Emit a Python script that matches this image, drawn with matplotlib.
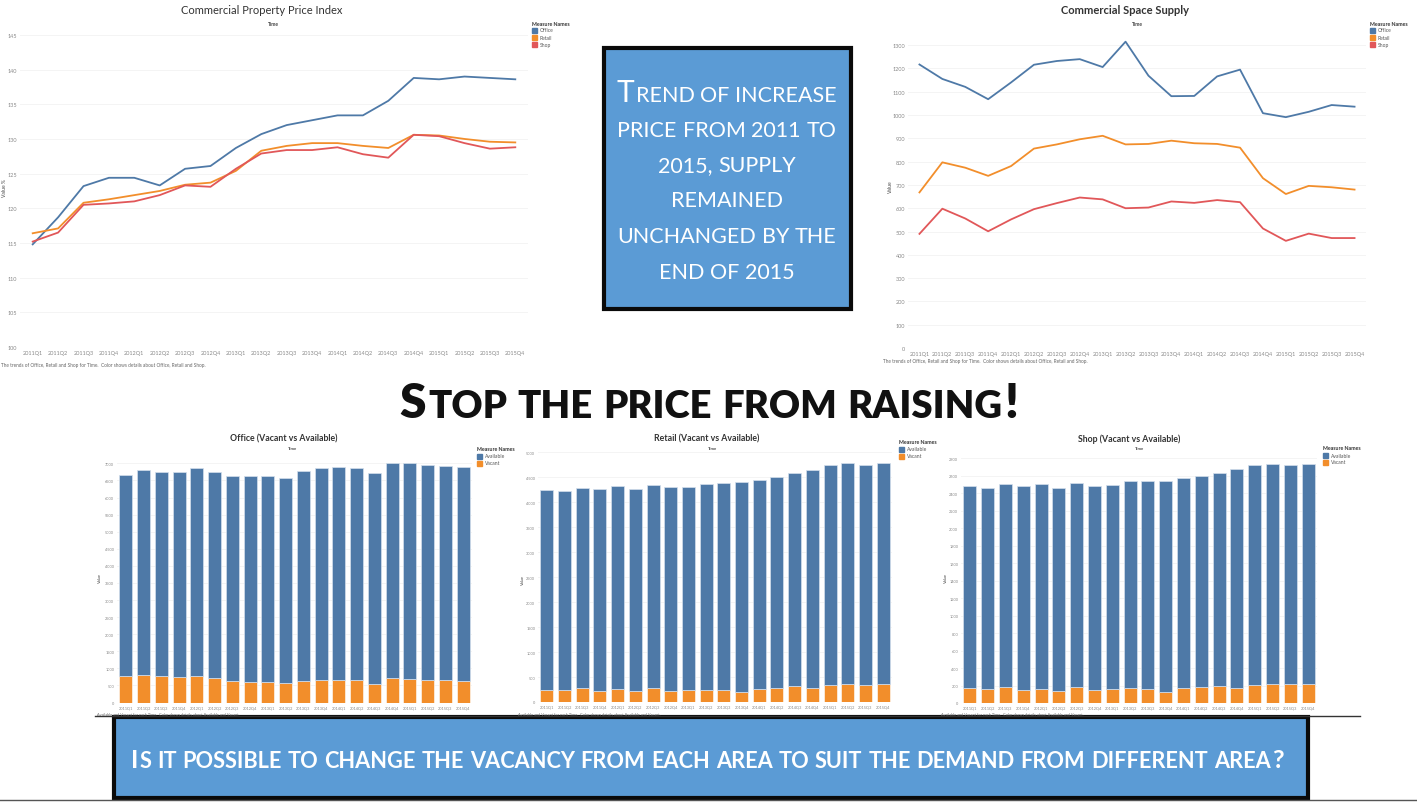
import matplotlib
matplotlib.use('Agg')
import matplotlib.pyplot as plt
from matplotlib.patches import Rectangle
from matplotlib.lines import Line2D

plt.rcParams['font.family'] = ['Lato', 'DejaVu Sans']

# ---- data -------------------------------------------------------------
quarters = ['2011Q1', '2011Q2', '2011Q3', '2011Q4', '2012Q1', '2012Q2', '2012Q3', '2012Q4',
            '2013Q1', '2013Q2', '2013Q3', '2013Q4', '2014Q1', '2014Q2', '2014Q3', '2014Q4',
            '2015Q1', '2015Q2', '2015Q3', '2015Q4']

price_office = [114.8, 118.7, 123.2, 124.4, 124.4, 123.3, 125.7, 126.1, 128.7, 130.7,
                132.0, 132.7, 133.4, 133.4, 135.5, 138.8, 138.6, 139.0, 138.8, 138.6]
price_retail = [116.4, 117.1, 120.8, 121.3, 121.9, 122.5, 123.4, 123.7, 125.4, 128.3,
                129.0, 129.4, 129.4, 129.0, 128.7, 130.6, 130.5, 130.0, 129.6, 129.5]
price_shop = [115.2, 116.5, 120.5, 120.7, 121.0, 121.9, 123.3, 123.1, 125.7, 127.9,
              128.4, 128.4, 128.8, 127.8, 127.3, 130.6, 130.4, 129.4, 128.6, 128.8]

supply_office = [1217, 1155, 1121, 1068, 1140, 1216, 1232, 1240, 1206, 1315,
                 1169, 1081, 1082, 1166, 1195, 1008, 991, 1014, 1043, 1036]
supply_retail = [668, 797, 774, 739, 781, 856, 874, 896, 911, 874,
                 876, 890, 879, 876, 860, 729, 661, 696, 690, 680]
supply_shop = [490, 598, 556, 501, 552, 596, 622, 646, 638, 600,
               603, 629, 623, 635, 626, 513, 460, 491, 472, 472]

office_vacant = [785, 815, 766, 746, 766, 717, 629, 610, 590, 561,
                 639, 659, 668, 649, 551, 707, 698, 659, 649, 639]
office_available = [5874, 5980, 5980, 6010, 6088, 6039, 6010, 6019, 6039, 6019,
                    6137, 6204, 6215, 6214, 6156, 6293, 6302, 6302, 6283, 6263]
retail_vacant = [248, 234, 274, 214, 268, 227, 274, 227, 241, 248,
                 241, 201, 254, 274, 314, 281, 341, 355, 341, 355]
retail_available = [3994, 3987, 4021, 4048, 4061, 4048, 4081, 4088, 4061, 4121,
                    4141, 4208, 4202, 4235, 4275, 4369, 4402, 4435, 4409, 4435]
shop_vacant = [168, 160, 183, 145, 164, 141, 179, 153, 160, 168,
               164, 126, 176, 179, 198, 176, 210, 214, 218, 221]
shop_available = [2309, 2302, 2325, 2332, 2340, 2321, 2340, 2332, 2329, 2366,
                  2370, 2408, 2401, 2420, 2436, 2500, 2512, 2523, 2500, 2508]

BLUE, ORANGE, RED = '#4E79A7', '#F28E2B', '#E15759'
BOX = '#5B9BD5'

W, H = 1417, 803
fig = plt.figure(figsize=(W / 100, H / 100), dpi=100)
renderer = fig.canvas.get_renderer()


def fx(x):
    return x / W


def fy(y):
    return 1 - y / H


def add_ax(l, t, r, b):
    return fig.add_axes([fx(l), fy(b), (r - l) / W, (b - t) / H])


def style(ax, ylim, yticks, fs):
    for s in ax.spines.values():
        s.set_visible(False)
    ax.set_xlim(-0.5, len(quarters) - 0.5)
    ax.set_ylim(*ylim)
    ax.set_yticks(yticks)
    ax.set_xticks(range(len(quarters)))
    ax.set_xticklabels(quarters)
    ax.tick_params(length=0, labelsize=fs, colors='#888888', pad=2)
    ax.grid(axis='y', color='#f2f2f2', lw=0.6)
    ax.set_axisbelow(True)


def legend(x, y, names, colors, title='Measure Names'):
    if title:
        fig.text(fx(x), fy(y), title, fontsize=3.8, weight='bold', color='#333333', va='center')
    for i, (n, c) in enumerate(zip(names, colors)):
        yy = y + 7 + 7 * i
        fig.patches.append(Rectangle((fx(x), fy(yy + 2.5)), 5 / W, 5 / H, color=c,
                                     transform=fig.transFigure))
        fig.text(fx(x + 8), fy(yy), n, fontsize=3.6, color='#555555', va='center')


def small_caps(text, cx, base, big, small, color, weight, width=None):
    def layout(b, s):
        items, x = [], 0.0
        for wi, word in enumerate(text.split(' ')):
            if wi:
                x += 0.27 * s * 100 / 72
            runs = []
            for ch in word:
                isbig = ch.isupper() or ch in '!?'
                if runs and runs[-1][1] == isbig:
                    runs[-1][0] += ch
                else:
                    runs.append([ch, isbig])
            for ri, (run, isbig) in enumerate(runs):
                size = b if isbig else s
                if ri:
                    x += 0.05 * size * 100 / 72
                t = fig.text(0, 0, run.upper(), fontsize=size, color=color, weight=weight,
                             ha='left', va='baseline')
                items.append((t, x))
                x += t.get_window_extent(renderer).width
        return items, x

    items, total = layout(big, small)
    if width:
        for t, _ in items:
            t.remove()
        k = width / total
        items, total = layout(big * k, small * k)
    x0 = cx - total / 2
    for t, x in items:
        t.set_position((fx(x0 + x), fy(base)))


xs = range(len(quarters))

# ---- Commercial Property Price Index -------------------------------------
ax1 = add_ax(20, 29, 528, 348)
style(ax1, (100, 146), range(100, 146, 5), 4)
for vals, c in [(price_office, BLUE), (price_retail, ORANGE), (price_shop, RED)]:
    ax1.plot(xs, vals, color=c, lw=1.3)
fig.text(fx(262), fy(10), 'Commercial Property Price Index', fontsize=8, color='#333333',
         ha='center', va='center')
fig.text(fx(273), fy(24), 'Time', fontsize=3.6, weight='bold', color='#444444', ha='center', va='center')
fig.text(fx(5), fy(188), 'Value %', fontsize=3.6, color='#444444', rotation=90, ha='center', va='center')
fig.text(fx(1), fy(365), 'The trends of Office, Retail and Shop for Time.  Color shows details about Office, Retail and Shop.',
         fontsize=3.4, color='#666666', va='center')
legend(532, 24, ['Office', 'Retail', 'Shop'], [BLUE, ORANGE, RED])

# ---- Commercial Space Supply ---------------------------------------------
ax2 = add_ax(908, 28, 1366, 349)
style(ax2, (0, 1378), range(0, 1301, 100), 4)
for vals, c in [(supply_office, BLUE), (supply_retail, ORANGE), (supply_shop, RED)]:
    ax2.plot(xs, vals, color=c, lw=1.3)
fig.text(fx(1125), fy(10), 'Commercial Space Supply', fontsize=8, weight='bold', color='#333333',
         ha='center', va='center')
fig.text(fx(1137), fy(24), 'Time', fontsize=3.6, weight='bold', color='#444444', ha='center', va='center')
fig.text(fx(890), fy(187), 'Value', fontsize=3.6, color='#444444', rotation=90, ha='center', va='center')
fig.text(fx(883), fy(362), 'The trends of Office, Retail and Shop for Time.  Color shows details about Office, Retail and Shop.',
         fontsize=3.4, color='#666666', va='center')
legend(1370, 24, ['Office', 'Retail', 'Shop'], [BLUE, ORANGE, RED])

# ---- Vacant vs Available bar charts --------------------------------------
bars = [
    ('Office (Vacant vs Available)', office_vacant, office_available, (117, 461, 472, 703.5),
     (0, 7100), range(0, 7001, 500), 284, 293, 100, 578, 97, (477, 450)),
    ('Retail (Vacant vs Available)', retail_vacant, retail_available, (538, 452, 892, 703),
     (0, 5030), range(0, 5001, 500), 707, 713, 523, 580, 518, (899, 443)),
    ('Shop (Vacant vs Available)', shop_vacant, shop_available, (961, 455, 1317, 704),
     (0, 2846), range(0, 2801, 200), 1129, 1140, 946, 578, 941, (1323, 449)),
]
for title, vac, avail, box, ylim, yt, tx, timex, vx, vy, notex, lg in bars:
    ax = add_ax(*box)
    style(ax, ylim, yt, 2.8)
    ax.bar(xs, vac, width=0.73, color=ORANGE, edgecolor='white', lw=0.4)
    ax.bar(xs, avail, width=0.73, bottom=vac, color=BLUE, edgecolor='#d5e0ec', lw=0.5)
    fig.text(fx(tx), fy(439), title, fontsize=6.3, weight='bold', color='#333333',
             ha='center', va='center')
    fig.text(fx(timex), fy(449), 'Time', fontsize=3, weight='bold', color='#444444', ha='center', va='center')
    fig.text(fx(vx), fy(vy), 'Value', fontsize=3, color='#444444', rotation=90, ha='center', va='center')
    fig.text(fx(notex), fy(715), 'Available and Vacant for each Time.  Color shows details about Available and Vacant.',
             fontsize=2.8, color='#666666', va='center')
    legend(lg[0], lg[1], ['Available', 'Vacant'], [BLUE, ORANGE])

# ---- text panels ----------------------------------------------------------
fig.patches.append(Rectangle((fx(604), fy(310)), 247 / W, 261 / H, facecolor=BOX,
                             edgecolor='#0a0a0a', lw=3, transform=fig.transFigure))
box_lines = ['Trend of increase', 'price from 2011 to', '2015, supply', 'remained',
             'unchanged by the', 'end of 2015']
box_base = [102, 137, 172, 207, 243, 279]
for line, b in zip(box_lines, box_base):
    small_caps(line, 727, b, 21.5, 15.5, 'white', 'normal')

small_caps('Stop the price from raising!', 709, 418, 35, 28, '#111111', 'heavy', width=619)

fig.lines.append(Line2D([fx(95), fx(1360)], [fy(717), fy(717)], color='#333333', lw=1,
                        transform=fig.transFigure))
fig.lines.append(Line2D([0, 1], [fy(801), fy(801)], color='#555555', lw=1, transform=fig.transFigure))
fig.patches.append(Rectangle((fx(114), fy(799)), 1194 / W, 81 / H, facecolor=BOX,
                             edgecolor='#0a0a0a', lw=3, transform=fig.transFigure))
small_caps('Is it possible to change the vacancy from each area to suit the demand from different area?',
           707, 768, 18, 15.5, 'white', 'bold', width=1152)

fig.savefig('out.png', dpi=100)
